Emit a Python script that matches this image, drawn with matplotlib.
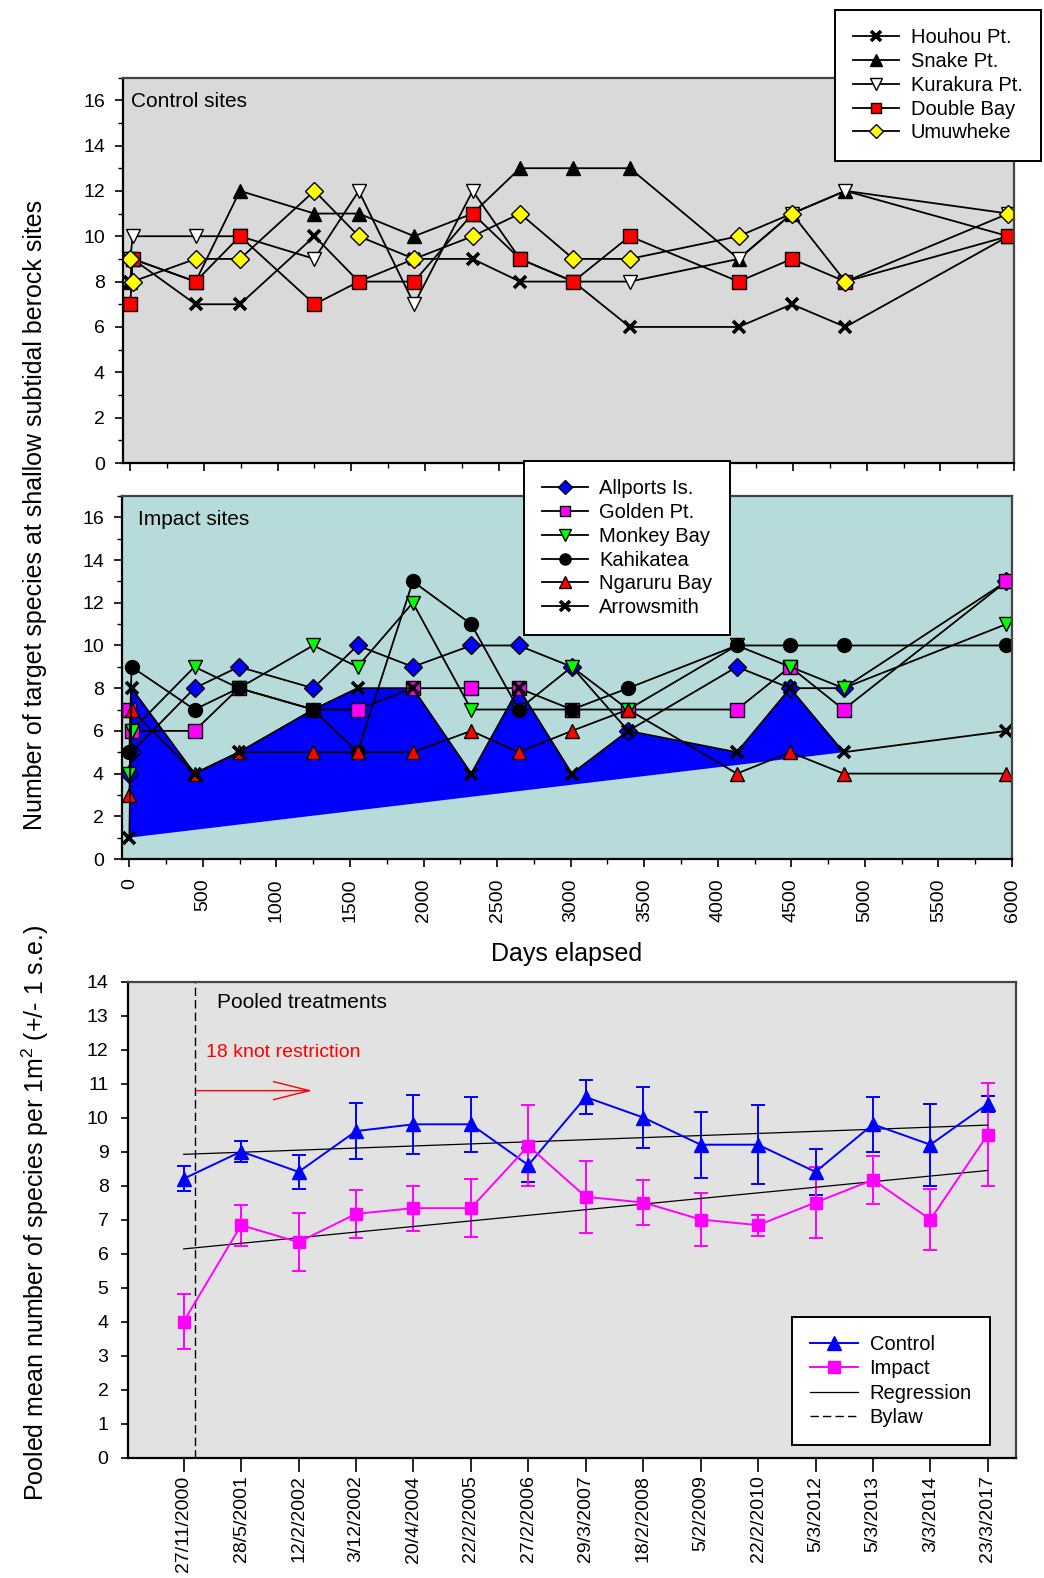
import numpy as np
import matplotlib
matplotlib.use('Agg')
import matplotlib.pyplot as plt
from matplotlib.ticker import MultipleLocator
from matplotlib.lines import Line2D

plt.rcParams['font.family'] = ['Liberation Sans', 'DejaVu Sans']
plt.rcParams['mathtext.fontset'] = 'custom'
plt.rcParams['mathtext.rm'] = 'Liberation Sans'

# survey timing
days = [0, 15, 443, 744, 1250, 1551, 1927, 2324, 2646, 3008, 3391, 4130, 4492, 4855, 5962]
survey_dates = ['27/11/2000', '28/5/2001', '12/2/2002', '3/12/2002', '20/4/2004', '22/2/2005',
                '27/2/2006', '29/3/2007', '18/2/2008', '5/2/2009', '22/2/2010', '5/3/2012',
                '5/3/2013', '3/3/2014', '23/3/2017']

# control sites (number of target species)
houhou = [8, 9, 7, 7, 10, 8, 9, 9, 8, 8, 6, 6, 7, 6, 10]
snake = [8, 9, 8, 12, 11, 11, 10, 11, 13, 13, 13, 9, 11, 12, 10]
kurakura = [9, 10, 10, 10, 9, 12, 7, 12, 9, 8, 8, 9, 11, 12, 11]
double_bay = [7, 9, 8, 10, 7, 8, 8, 11, 9, 8, 10, 8, 9, 8, 10]
umuwheke = [9, 8, 9, 9, 12, 10, 9, 10, 11, 9, 9, 10, 11, 8, 11]

# impact sites
allports = [4, 5, 8, 9, 8, 10, 9, 10, 10, 9, 6, 9, 8, 8, 13]
golden = [7, 6, 6, 8, 7, 7, 8, 8, 8, 7, 7, 7, 9, 7, 13]
monkey = [4, 6, 9, 8, 10, 9, 12, 7, 7, 9, 7, 10, 9, 8, 11]
kahikatea = [5, 9, 7, 8, 7, 5, 13, 11, 7, 7, 8, 10, 10, 10, 10]
ngaruru = [3, 7, 4, 5, 5, 5, 5, 6, 5, 6, 7, 4, 5, 4, 4]
arrowsmith = [1, 8, 4, 5, 7, 8, 8, 4, 8, 4, 6, 5, 8, 5, 6]

control_names = ['Houhou Pt.', 'Snake Pt.', 'Kurakura Pt.', 'Double Bay', 'Umuwheke']
impact_names = ['Allports Is.', 'Golden Pt.', 'Monkey Bay', 'Kahikatea', 'Ngaruru Bay', 'Arrowsmith']

bylaw_pos = 0.2  # between first two surveys (category units)
n_fill = 14      # shaded area spans the first 14 Arrowsmith surveys

W, H = 1044, 1578
fig = plt.figure(figsize=(W / 100, H / 100), dpi=100)

# marker, face colour, size
control_style = [('x', 'black', 9), ('^', 'black', 10), ('v', 'white', 10), ('s', 'red', 9.4), ('D', 'yellow', 8.7)]
impact_style = [('D', 'blue', 8.7), ('s', 'magenta', 9.4), ('v', 'lime', 10), ('o', 'black', 10),
                ('^', 'red', 10), ('x', 'black', 9)]


def site_line(ax, x, y, style, label):
    m, fc, ms = style
    if m == 'x':
        return ax.plot(x, y, color='black', lw=1.3, marker='x', ms=ms, mew=2.6, mec='black', label=label)[0]
    return ax.plot(x, y, color='black', lw=1.3, marker=m, ms=ms, mfc=fc, mec='black', mew=1.0, label=label)[0]


def style_axes(ax, bg):
    ax.set_facecolor(bg)
    for s in ax.spines.values():
        s.set_color('#444444')
        s.set_linewidth(1.6)
    ax.spines['left'].set_color('black')
    ax.spines['bottom'].set_color('black')


legend_kw = dict(fontsize=14.5, frameon=True, fancybox=False, framealpha=1, edgecolor='black',
                 handletextpad=0.55, borderaxespad=0)

# ---- control sites ----
ax1 = fig.add_axes([123 / W, 1 - 463 / H, (1014 - 123) / W, (463 - 77.5) / H])
style_axes(ax1, '#d9d9d9')
c_handles = []
for name, vals, st in zip(control_names, [houhou, snake, kurakura, double_bay, umuwheke], control_style):
    c_handles.append(site_line(ax1, days, vals, st, name))
ax1.set_xlim(-50, 6000)
ax1.set_ylim(0, 17)
ax1.yaxis.set_major_locator(MultipleLocator(2))
ax1.yaxis.set_minor_locator(MultipleLocator(1))
ax1.xaxis.set_major_locator(MultipleLocator(500))
ax1.xaxis.set_minor_locator(MultipleLocator(250))
ax1.tick_params(axis='both', which='major', direction='out', length=6, width=1.2, labelsize=14, pad=7)
ax1.tick_params(axis='both', which='minor', direction='out', length=3.5, width=1.0)
ax1.tick_params(axis='x', labelbottom=False)
ax1.text(0.009, 0.938, 'Control sites', transform=ax1.transAxes, fontsize=15, va='center')

# ---- impact sites ----
ax2 = fig.add_axes([122 / W, 1 - 859 / H, (1012 - 122) / W, (859 - 496) / H])
style_axes(ax2, '#b7dbdb')
ax2.fill(days[:n_fill], arrowsmith[:n_fill], color='#0000ff', zorder=1, lw=0)
i_handles = []
for name, vals, st in zip(impact_names, [allports, golden, monkey, kahikatea, ngaruru, arrowsmith], impact_style):
    i_handles.append(site_line(ax2, days, vals, st, name))
ax2.set_xlim(-50, 6000)
ax2.set_ylim(0, 17)
ax2.yaxis.set_major_locator(MultipleLocator(2))
ax2.yaxis.set_minor_locator(MultipleLocator(1))
ax2.xaxis.set_major_locator(MultipleLocator(500))
ax2.xaxis.set_minor_locator(MultipleLocator(250))
ax2.tick_params(axis='both', which='major', direction='out', length=6, width=1.2, labelsize=14, pad=7)
ax2.tick_params(axis='both', which='minor', direction='out', length=3.5, width=1.0)
ax2.tick_params(axis='x', labelrotation=90, pad=8)
ax2.text(0.018, 0.935, 'Impact sites', transform=ax2.transAxes, fontsize=15, va='center')

fig.text(35 / W, 1 - 515 / H, 'Number of target species at shallow subtidal berock sites',
         rotation=90, ha='center', va='center', fontsize=18)
fig.text(567 / W, 1 - 954 / H, 'Days elapsed', ha='center', va='center', fontsize=18)

leg1 = fig.legend(handles=c_handles, loc='upper left', bbox_to_anchor=(835 / W, 1 - 10 / H),
                  borderpad=0.9, labelspacing=0.24, handlelength=2.3, markerscale=0.8, **legend_kw)
leg1.get_frame().set_linewidth(1.4)
leg2 = fig.legend(handles=i_handles, loc='upper left', bbox_to_anchor=(523.5 / W, 1 - 461 / H),
                  borderpad=0.9, labelspacing=0.24, handlelength=2.3, markerscale=0.8, **legend_kw)
leg2.get_frame().set_linewidth(1.4)

# ---- pooled treatments ----
control_all = np.array([houhou, snake, kurakura, double_bay, umuwheke], dtype=float)
impact_all = np.array([allports, golden, monkey, kahikatea, ngaruru, arrowsmith], dtype=float)
c_mean = control_all.mean(axis=0)
c_se = control_all.std(axis=0, ddof=1) / np.sqrt(control_all.shape[0])
i_mean = impact_all.mean(axis=0)
i_se = impact_all.std(axis=0, ddof=1) / np.sqrt(impact_all.shape[0])
idx = np.arange(len(survey_dates))

ax3 = fig.add_axes([128 / W, 1 - 1457.5 / H, (1016 - 128) / W, (1457.5 - 981.5) / H])
style_axes(ax3, '#e2e2e2')
ax3.errorbar(idx, c_mean, yerr=c_se, color='blue', lw=1.4, marker='^', ms=10, capsize=5,
             capthick=1.4, elinewidth=1.4, label='Control')
ax3.errorbar(idx, i_mean, yerr=i_se, color='magenta', lw=1.4, marker='s', ms=8.5, capsize=5,
             capthick=1.4, elinewidth=1.4, label='Impact')
for means in (c_mean, i_mean):
    slope, icpt = np.polyfit(idx, means, 1)
    ax3.plot(idx[[0, -1]], icpt + slope * idx[[0, -1]], color='black', lw=0.9)
ax3.axvline(bylaw_pos, color='black', lw=1.0, dashes=(6, 3))
ax3.annotate('', xy=(2.24, 10.79), xytext=(bylaw_pos, 10.79),
             arrowprops=dict(arrowstyle='->,head_length=2.6,head_width=0.65', color='red', lw=1.0,
                             mutation_scale=10, shrinkA=0, shrinkB=0))
ax3.text(0.088, 0.850, '18 knot restriction', transform=ax3.transAxes, color='red', fontsize=14, va='center')
ax3.text(0.0997, 0.955, 'Pooled treatments', transform=ax3.transAxes, fontsize=15, va='center')
ax3.set_xlim(-0.97, 14.49)
ax3.set_ylim(0, 14)
ax3.set_xticks(idx)
ax3.set_xticklabels(survey_dates, rotation=90)
ax3.yaxis.set_major_locator(MultipleLocator(1))
ax3.tick_params(axis='x', direction='out', length=10, width=1.2, labelsize=14, pad=3)
ax3.tick_params(axis='y', direction='out', length=5, width=1.2, labelsize=14, pad=9)

leg_handles = [Line2D([], [], color='blue', lw=1.4, marker='^', ms=10),
               Line2D([], [], color='magenta', lw=1.4, marker='s', ms=8.5),
               Line2D([], [], color='black', lw=0.9),
               Line2D([], [], color='black', lw=1.0, dashes=(6, 3))]
leg3 = ax3.legend(leg_handles, ['Control', 'Impact', 'Regression', 'Bylaw'], loc='upper left',
                  bbox_to_anchor=(792 / W, 1 - 1317 / H), bbox_transform=fig.transFigure,
                  borderpad=0.9, labelspacing=0.26, handlelength=2.4, **legend_kw)
leg3.get_frame().set_linewidth(1.4)

fig.text(35 / W, 1 - 1213 / H, 'Pooled mean number of species per 1m$^2$ (+/- 1 s.e.)',
         rotation=90, ha='center', va='center', fontsize=18)

fig.savefig('out.png', dpi=100)
